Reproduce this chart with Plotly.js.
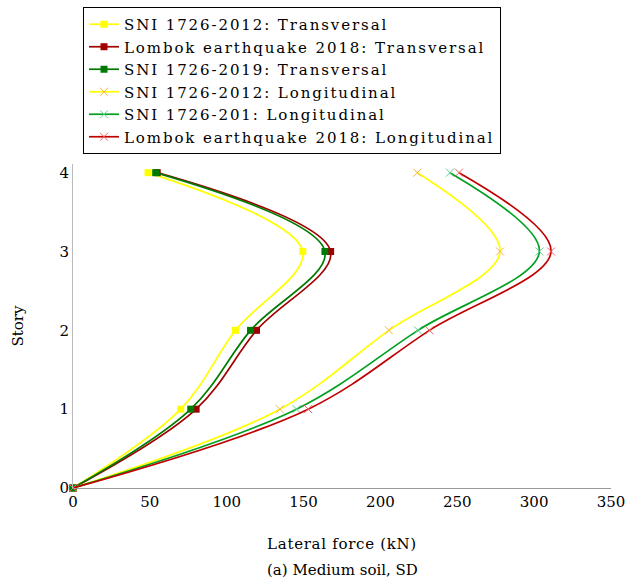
<!DOCTYPE html>
<html>
<head>
<meta charset="utf-8">
<script src="https://cdn.plot.ly/plotly-3.0.1.min.js"></script>
<style>
html,body{margin:0;padding:0;background:#fff;}
#chart{width:628px;height:585px;}
text.legendtext{letter-spacing:1.9px;}
text.xtitle{letter-spacing:0.7px;}
</style>
</head>
<body>
<div id="chart"></div>
<script>
const stories = [0, 1, 2, 3, 4];
const storyTicks = ['0', '1', '2', '3', '4'];
const forceTicks = [0, 50, 100, 150, 200, 250, 300, 350];

const sni2012Trans = [0, 70.1, 105.7, 149.5, 48.8];
const lombokTrans = [0, 80.1, 119.4, 167.6, 54.8];
const sni2019Trans = [0, 76.6, 115.5, 163.9, 53.8];
const sni2012Long = [0, 134.6, 205.5, 277.8, 224.0];
const sni2019Long = [0, 145.4, 224.4, 303.4, 245.2];
const lombokLong = [0, 153.0, 231.9, 311.0, 251.1];

const names = [
  'SNI 1726-2012: Transversal',
  'Lombok earthquake 2018: Transversal',
  'SNI 1726-2019: Transversal',
  'SNI 1726-2012: Longitudinal',
  'SNI 1726-201: Longitudinal',
  'Lombok earthquake 2018: Longitudinal'
];

const FONT = 'DejaVu Serif, serif';

function trace(xs, name, lineColor, markerColor, symbol) {
  const isX = symbol === 'x-thin';
  return {
    x: xs, y: stories, name: name, type: 'scatter', mode: 'lines+markers',
    line: {color: lineColor, width: 1.7, shape: 'spline', smoothing: 1},
    marker: isX ? {symbol: 'x-thin', size: 8, line: {color: markerColor, width: 1}, color: markerColor}
                : {symbol: 'square', size: 7, color: markerColor},
    cliponaxis: false
  };
}

const data = [
  trace(sni2012Trans, names[0], '#ffff00', '#ffff00', 'square'),
  trace(lombokTrans, names[1], '#a00000', '#a00000', 'square'),
  trace(sni2019Trans, names[2], '#007a00', '#007a00', 'square'),
  trace(sni2012Long, names[3], '#ffff00', '#f5b540', 'x-thin'),
  trace(sni2019Long, names[4], '#00a020', '#60d090', 'x-thin'),
  trace(lombokLong, names[5], '#c00000', '#f06060', 'x-thin')
];

const layout = {
  width: 628, height: 585,
  margin: {l: 73, r: 17, t: 164, b: 97, autoexpand: false},
  paper_bgcolor: '#fff', plot_bgcolor: '#fff',
  font: {family: FONT, size: 15, color: '#000'},
  showlegend: true,
  legend: {
    x: 0.0186, y: 1.4846, xanchor: 'left', yanchor: 'top',
    bordercolor: '#000', borderwidth: 1, bgcolor: '#fff',
    font: {family: FONT, size: 15, color: '#000'},
    tracegroupgap: 0
  },
  xaxis: {
    range: [0, 350], tickvals: forceTicks, ticktext: forceTicks.map(String),
    showgrid: false, zeroline: false, showline: true, linecolor: '#999', linewidth: 1,
    ticks: '', tickfont: {family: FONT, size: 15},
    title: {text: 'Lateral force (kN)', font: {family: FONT, size: 15}, standoff: 28}
  },
  yaxis: {
    range: [0, 4.11], tickvals: stories, ticktext: storyTicks,
    showgrid: false, zeroline: false, showline: true, linecolor: '#bbb', linewidth: 1,
    ticks: '', tickfont: {family: FONT, size: 15},
    title: {text: 'Story', font: {family: FONT, size: 15}, standoff: 32}
  },
  annotations: [{
    text: '(a) Medium soil, SD', xref: 'paper', yref: 'paper', x: 0.5, y: -0.252,
    xanchor: 'center', yanchor: 'middle', showarrow: false,
    font: {family: FONT, size: 15, color: '#000'}
  }]
};

Plotly.newPlot('chart', data, layout, {displayModeBar: false, staticPlot: true});
</script>
</body>
</html>
